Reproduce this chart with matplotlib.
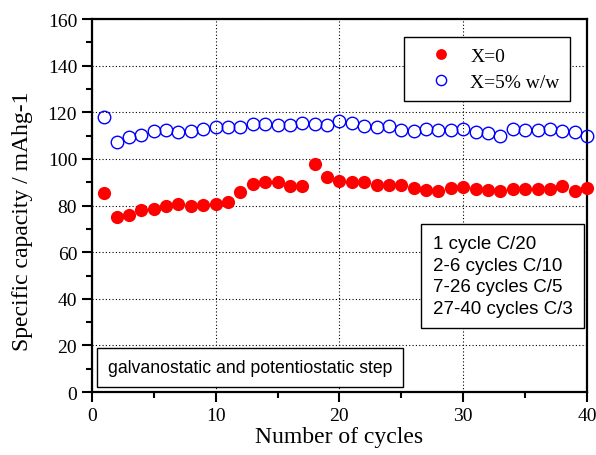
import matplotlib
matplotlib.use('Agg')
import matplotlib.pyplot as plt
from matplotlib.ticker import MultipleLocator

cycles = list(range(1, 41))
cap_x0 = [85.5, 75.0, 76.1, 77.9, 78.6, 80.0, 80.6, 80.0, 80.3, 80.6,
          81.6, 85.7, 89.1, 90.2, 90.3, 88.6, 88.6, 98.0, 92.3, 90.6,
          90.2, 89.9, 88.9, 88.7, 88.7, 87.7, 86.6, 86.3, 87.4, 87.9,
          87.0, 86.6, 86.3, 87.2, 87.2, 87.2, 87.2, 88.6, 86.3, 87.4]
cap_x5 = [117.9, 107.1, 109.3, 110.1, 111.8, 112.3, 111.6, 112.1, 112.7, 113.6,
          113.6, 113.8, 114.9, 114.9, 114.4, 114.4, 115.6, 114.9, 114.7, 116.2,
          115.4, 114.3, 113.6, 114.3, 112.4, 112.0, 112.9, 112.4, 112.4, 112.9,
          111.6, 111.2, 109.8, 113.0, 112.4, 112.4, 113.0, 112.2, 111.6, 109.8]
rate_lines = ['1 cycle C/20', '2-6 cycles C/10', '7-26 cycles C/5', '27-40 cycles C/3']

serif = 'Liberation Serif'
sans = 'Liberation Sans'

fig = plt.figure(figsize=(5.96, 4.56), dpi=100)
ax = fig.add_axes([0.154, 0.138, 0.831, 0.818])

ax.plot(cycles, cap_x0, 'o', color='red', markersize=9.5, markeredgewidth=0,
        label='X=0', clip_on=False, zorder=3)
ax.plot(cycles, cap_x5, 'o', markerfacecolor='none', markeredgecolor='blue',
        markersize=9, markeredgewidth=1.0, label='X=5% w/w', clip_on=False, zorder=3)

ax.set_xlim(0, 40)
ax.set_ylim(0, 160)
ax.xaxis.set_major_locator(MultipleLocator(10))
ax.xaxis.set_minor_locator(MultipleLocator(5))
ax.yaxis.set_major_locator(MultipleLocator(20))
ax.yaxis.set_minor_locator(MultipleLocator(10))
ax.tick_params(which='major', direction='out', length=7, width=1.5, labelsize=14)
ax.tick_params(which='minor', direction='out', length=4, width=1.5)
for lab in ax.get_xticklabels() + ax.get_yticklabels():
    lab.set_family(serif)
for s in ax.spines.values():
    s.set_linewidth(1.6)
ax.grid(True, which='major', linestyle=(0, (1, 2)), color='black', linewidth=0.8)
ax.set_axisbelow(True)

ax.set_xlabel('Number of cycles', family=serif, fontsize=17, labelpad=2)
ax.set_ylabel('Specific capacity / mAhg-1', family=serif, fontsize=17)
ax.yaxis.set_label_coords(-0.118, 0.461)

leg = ax.legend(loc='upper right', bbox_to_anchor=(0.966, 0.952), borderaxespad=0,
                prop={'family': serif, 'size': 14},
                fancybox=False, edgecolor='black', framealpha=1, markerscale=0.82,
                borderpad=0.55, handletextpad=0.15, labelspacing=0.4, handlelength=2.7)
leg.get_frame().set_linewidth(1.0)

ax.text(0.688, 0.421, '\n'.join(rate_lines), transform=ax.transAxes, ha='left', va='top',
        multialignment='left', family=sans, fontsize=13.5, linespacing=1.36,
        bbox=dict(boxstyle='square,pad=0.6', facecolor='white', edgecolor='black', linewidth=1.0))
ax.text(0.032, 0.066, 'galvanostatic and potentiostatic step', transform=ax.transAxes,
        ha='left', va='center', family=sans, fontsize=12.7,
        bbox=dict(boxstyle='square,pad=0.6', facecolor='white', edgecolor='black', linewidth=1.0))

fig.savefig('out.png', dpi=100)
